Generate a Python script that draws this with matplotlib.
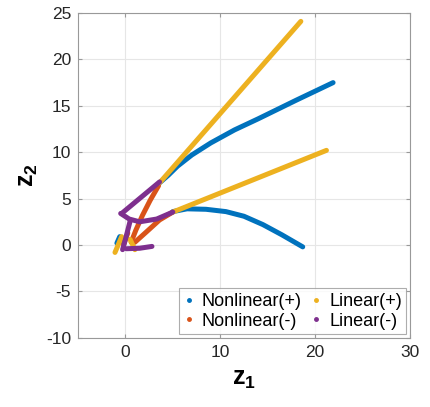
import matplotlib
matplotlib.use("Agg")
import matplotlib.pyplot as plt

# MATLAB default colour order
c_blue = '#0072BD'
c_orange = '#D95319'
c_yellow = '#EDB120'
c_purple = '#7E2F8E'

# Nonlinear(+) trajectories
nlp_x = [[3.6, 4.5, 5.5, 7.0, 9.0, 11.5, 14.0, 18.0, 21.9],
         [5.0, 6.5, 8.5, 10.6, 12.5, 14.5, 16.5, 18.7],
         [-0.9, -0.6, -0.3]]
nlp_y = [[6.7, 7.5, 8.5, 9.7, 11.0, 12.4, 13.6, 15.6, 17.5],
         [3.6, 3.9, 3.85, 3.6, 3.1, 2.2, 1.1, -0.2],
         [0.2, 0.9, 0.3]]

# Nonlinear(-) trajectories
nlm_x = [[3.5, 2.6, 1.8, 1.1, 0.6],
         [5.0, 3.6, 2.2, 1.0],
         [0.25, -0.2]]
nlm_y = [[6.4, 4.8, 3.2, 1.6, 0.3],
         [3.55, 2.7, 1.4, 0.3],
         [1.3, 0.0]]

# Linear(+) trajectories
lp_x = [[3.6, 18.5],
        [5.0, 21.2],
        [-1.1, -0.4],
        [0.5, 1.0]]
lp_y = [[6.7, 24.1],
        [3.55, 10.2],
        [-0.8, 0.9],
        [0.6, -0.5]]

# Linear(-) trajectories
lm_x = [[3.6, 1.6, -0.4],
        [5.0, 3.3, 1.5, 0.4, -0.5],
        [0.5, 0.1, -0.3],
        [0.1, 1.5, 2.8]]
lm_y = [[6.8, 5.1, 3.4],
        [3.55, 2.8, 2.5, 2.8, 3.4],
        [2.6, 1.0, -0.5],
        [-0.4, -0.35, -0.15]]

labels = ['Nonlinear(+)', 'Nonlinear(-)', 'Linear(+)', 'Linear(-)']

plt.rcParams['font.family'] = ['Liberation Sans', 'DejaVu Sans']
plt.rcParams['axes.unicode_minus'] = False
plt.rcParams['mathtext.fontset'] = 'custom'
plt.rcParams['mathtext.bf'] = 'Liberation Sans:bold'
plt.rcParams['mathtext.rm'] = 'Liberation Sans'

fig = plt.figure(figsize=(4.31, 4.07), dpi=100)
ax = fig.add_axes([0.181, 0.170, 0.770, 0.798])

lw = 3.6
groups = [(nlp_x, nlp_y, c_blue), (nlm_x, nlm_y, c_orange),
          (lp_x, lp_y, c_yellow), (lm_x, lm_y, c_purple)]
for xs, ys, col in groups:
    for x, y in zip(xs, ys):
        ax.plot(x, y, color=col, linewidth=lw, solid_capstyle='round',
                solid_joinstyle='round', zorder=3)

ax.set_xlim(-5, 30)
ax.set_ylim(-10, 25)
ax.set_xticks([0, 10, 20, 30])
ax.set_yticks([-10, -5, 0, 5, 10, 15, 20, 25])
ax.grid(True, color='#e6e6e6', linewidth=0.8)
ax.set_axisbelow(True)
for s in ax.spines.values():
    s.set_color('#999999')
    s.set_linewidth(0.8)
ax.tick_params(direction='in', top=True, right=True, length=3,
               color='#999999', labelsize=12.5, labelcolor='#262626', pad=5)

ax.set_xlabel(r'$\mathbf{z_1}$', fontsize=18, labelpad=5)
ax.set_ylabel(r'$\mathbf{z_2}$', fontsize=18, labelpad=4)

# legend shows dots only
handles = []
for col, lab in zip([c_blue, c_orange, c_yellow, c_purple], labels):
    h, = ax.plot([], [], '.', color=col, markersize=5, label=lab)
    handles.append(h)
leg = ax.legend(handles=handles, loc='lower right', ncol=2, fontsize=13,
                frameon=True, fancybox=False, borderaxespad=0.2,
                handlelength=0.6, handletextpad=0.4, columnspacing=0.5,
                borderpad=0.25, labelspacing=0.15)
leg.get_frame().set_edgecolor('#999999')
leg.get_frame().set_linewidth(0.8)

fig.savefig('out.png', dpi=100)
